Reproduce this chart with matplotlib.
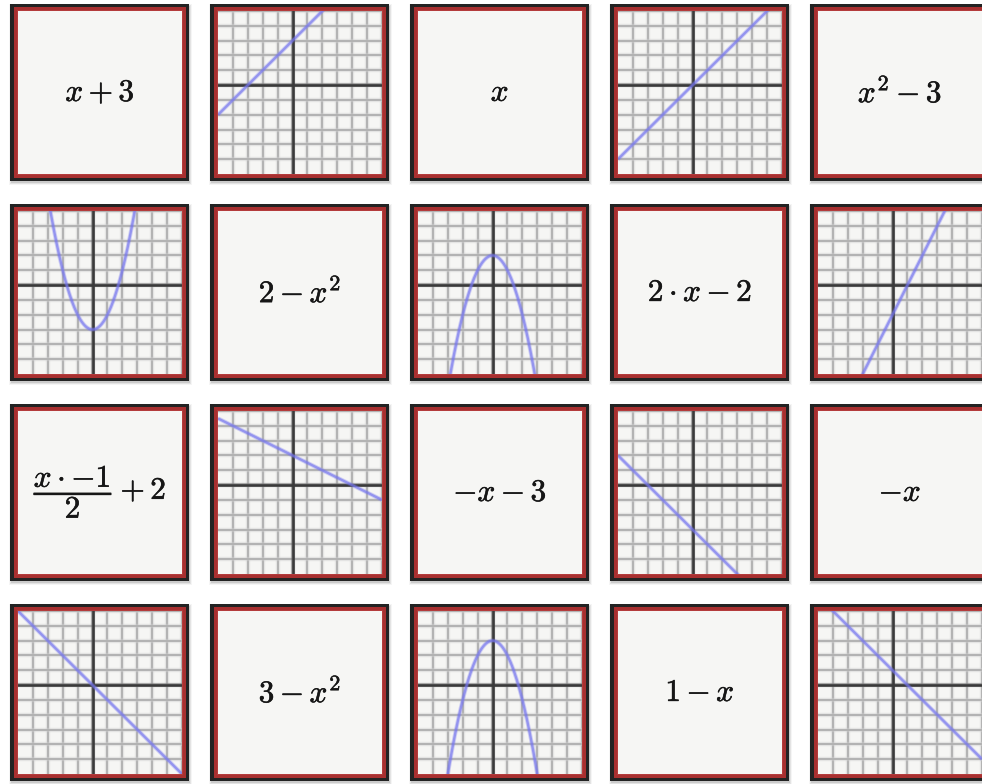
import numpy as np
import matplotlib
matplotlib.use("Agg")
import matplotlib.pyplot as plt
from matplotlib.patches import Rectangle
import matplotlib.patheffects as pe

plt.rcParams['mathtext.fontset'] = 'cm'

# ---- data ----
text_labels = [r"$x+3$", r"$x$", r"$x^2-3$", r"$2-x^2$", r"$2\cdot x-2$",
               r"$\dfrac{x\cdot {-1}}{2}+2$", r"$-x-3$", r"$-x$", r"$3-x^2$", r"$1-x$"]
quad_a = [0, 0, 1, -1, 0, 0, 0, 0, -1, 0]
lin_b = [1, 1, 0, 0, 2, -0.5, -1, -1, 0, -1]
const_c = [3, 0, -3, 2, -2, 2, -3, 0, 3, 1]
x_range = (-5, 6)
y_range = (-6, 5)
n_rows, n_cols = 4, 5

W, H = 982, 784
fig = plt.figure(figsize=(W / 100, H / 100), dpi=100)
fig.patch.set_facecolor('white')

bg = fig.add_axes([0, 0, 1, 1])
bg.set_xlim(0, W)
bg.set_ylim(H, 0)
bg.axis('off')

inner_col = '#f6f6f4'
red_col = '#a83030'
black_col = '#232323'
line_col = '#7575ee'

for r in range(n_rows):
    for c in range(n_cols):
        k = r * n_cols + c
        L = 10 + 200 * c
        T = 4 + 200 * r
        # shadow
        for i, a in enumerate([0.10, 0.07, 0.04]):
            bg.add_patch(Rectangle((L - i + 1, T - i + 2), 179 + 2 * i, 177 + 2 * i,
                                   facecolor='black', alpha=a, edgecolor='none'))
        bg.add_patch(Rectangle((L, T), 179, 177, facecolor=black_col, edgecolor='none'))
        bg.add_patch(Rectangle((L + 4, T + 3), 172, 171, facecolor=red_col, edgecolor='none'))
        bg.add_patch(Rectangle((L + 7, T + 6), 166, 165, facecolor='#c04848',
                               edgecolor='none', alpha=0.5))

        ax = fig.add_axes([(L + 8) / W, 1 - (T + 170) / H, 164 / W, 163 / H])
        ax.set_facecolor(inner_col)
        for s in ax.spines.values():
            s.set_visible(False)
        ax.set_xticks([])
        ax.set_yticks([])
        ax.set_xlim(*x_range)
        ax.set_ylim(*y_range)
        idx = k // 2
        if k % 2 == 0:
            ax.text(0.5, 0.5, text_labels[idx], transform=ax.transAxes,
                    ha='center', va='center', fontsize=22.5, color='#161616',
                    path_effects=[pe.withStroke(linewidth=0.4, foreground='#161616')])
        else:
            for g in range(x_range[0] + 1, x_range[1] + 1):
                ax.axvline(g, color='#d0d0d0', lw=3.2, alpha=0.45, zorder=1)
                ax.axvline(g, color='#b2b2b2', lw=1.4, zorder=1)
            for g in range(y_range[0] + 1, y_range[1] + 1):
                ax.axhline(g, color='#d0d0d0', lw=3.2, alpha=0.45, zorder=1)
                ax.axhline(g, color='#b2b2b2', lw=1.4, zorder=1)
            ax.axvline(0, color='#3f3f3f', lw=3.0, alpha=0.35, zorder=2)
            ax.axhline(0, color='#3f3f3f', lw=3.0, alpha=0.35, zorder=2)
            ax.axvline(0, color='#3a3a3a', lw=1.8, zorder=2)
            ax.axhline(0, color='#3a3a3a', lw=1.8, zorder=2)
            xs = np.linspace(x_range[0], x_range[1], 400)
            ys = quad_a[idx] * xs ** 2 + lin_b[idx] * xs + const_c[idx]
            ax.plot(xs, ys, color=line_col, lw=3.0, alpha=0.3, zorder=3,
                    solid_capstyle='butt')
            ax.plot(xs, ys, color=line_col, lw=1.7, alpha=0.65, zorder=3,
                    solid_capstyle='butt')

fig.savefig('out.png', dpi=100)
